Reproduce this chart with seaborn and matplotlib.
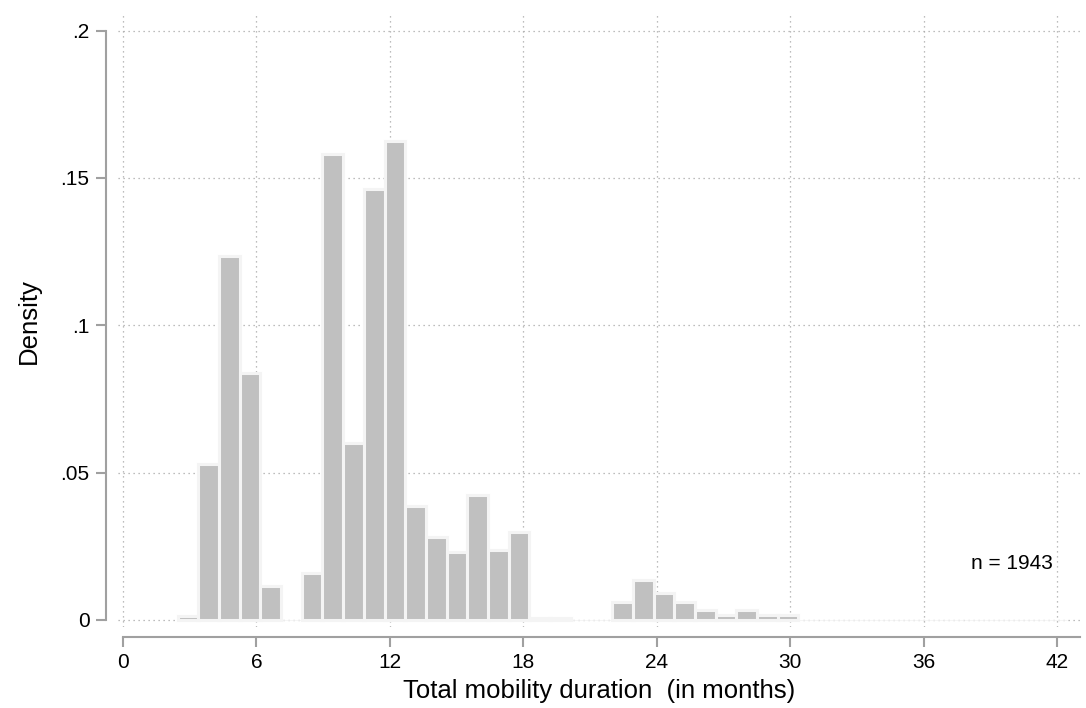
import numpy as np
import pandas as pd
import matplotlib
matplotlib.use("Agg")
import matplotlib.pyplot as plt
import seaborn as sns

# =============================
# DATA
# =============================
bin_start = 2.46     # left edge of first bin (months)
bin_width = 0.93     # bin width (months)

density = [
    0.0012, 0.0530, 0.1235, 0.0839, 0.0116, 0.0,    0.0160, 0.1582,
    0.0601, 0.1464, 0.1625, 0.0388, 0.0283, 0.0232, 0.0425, 0.0238,
    0.0299, 0.0008, 0.0008, 0.0,    0.0,    0.0062, 0.0137, 0.0093,
    0.0060, 0.0034, 0.0017, 0.0034, 0.0017, 0.0017, 0.0,    0.0,
    0.0,    0.0,    0.0,    0.0,    0.0,    0.0,    0.0,    0.0,
    0.0,    0.0,    0.0,
]

xticks = [0, 6, 12, 18, 24, 30, 36, 42]
yticks = [0, 0.05, 0.1, 0.15, 0.2]
ytick_labels = ["0", ".05", ".1", ".15", ".2"]

n_obs = 1943
x_label = "Total mobility duration  (in months)"
y_label = "Density"

# =============================
# STYLE
# =============================
sns.set_style("white")
plt.rcParams["font.family"] = ["Liberation Sans", "DejaVu Sans"]
plt.rcParams["text.color"] = "black"
plt.rcParams["axes.labelcolor"] = "black"

edges = bin_start + bin_width * np.arange(len(density) + 1)
df = pd.DataFrame({
    "month": (edges[:-1] + edges[1:]) / 2,
    "density": density,
})

fig = plt.figure(figsize=(10.86, 7.08), dpi=100)
ax = fig.add_axes([118 / 1086, 81 / 708, 962 / 1086, 612 / 708])

sns.histplot(
    data=df, x="month", weights="density", bins=list(edges), stat="count",
    color="#c0c0c0", alpha=1, edgecolor="#f4f4f4", linewidth=2.2, ax=ax,
)
# empty bins: thin outline only, so the zero grid line stays visible
for p in ax.patches:
    if p.get_height() == 0:
        p.set_linewidth(0.6)

ax.set_xlim(-0.22, 43.02)
ax.set_ylim(-0.0024, 0.2053)

# grid
ax.set_axisbelow(True)
for x in xticks:
    ax.axvline(x, color="#a8a8a8", lw=0.9, ls=(0, (1, 3)), zorder=0)
for y in yticks:
    ax.axhline(y, color="#a8a8a8", lw=0.9, ls=(0, (1, 3)), zorder=0)

# axes, Stata-like
for s in ["top", "right"]:
    ax.spines[s].set_visible(False)
ax.spines["left"].set_position(("outward", 8.6))
ax.spines["bottom"].set_position(("outward", 7))
ax.spines["left"].set_bounds(0, 0.2)
ax.spines["bottom"].set_bounds(0, 43.02)
for s in ["left", "bottom"]:
    ax.spines[s].set_color("#a0a0a0")
    ax.spines[s].set_linewidth(1.5)

ax.set_xticks(xticks)
ax.set_xticklabels([str(t) for t in xticks])
ax.set_yticks(yticks)
ax.set_yticklabels(ytick_labels)
ax.tick_params(axis="both", length=7, width=1.5, color="#a0a0a0",
               labelsize=15, labelcolor="black", pad=5)
ax.tick_params(axis="x", bottom=True)
ax.tick_params(axis="y", left=True)

ax.set_xlabel(x_label, fontsize=18.5, labelpad=5)
ax.set_ylabel(y_label, fontsize=18.5, labelpad=14)

ax.text(41.8, 0.0191, f"n = {n_obs}", ha="right", va="center", fontsize=15)

plt.savefig("out.png", dpi=100)
plt.close()
